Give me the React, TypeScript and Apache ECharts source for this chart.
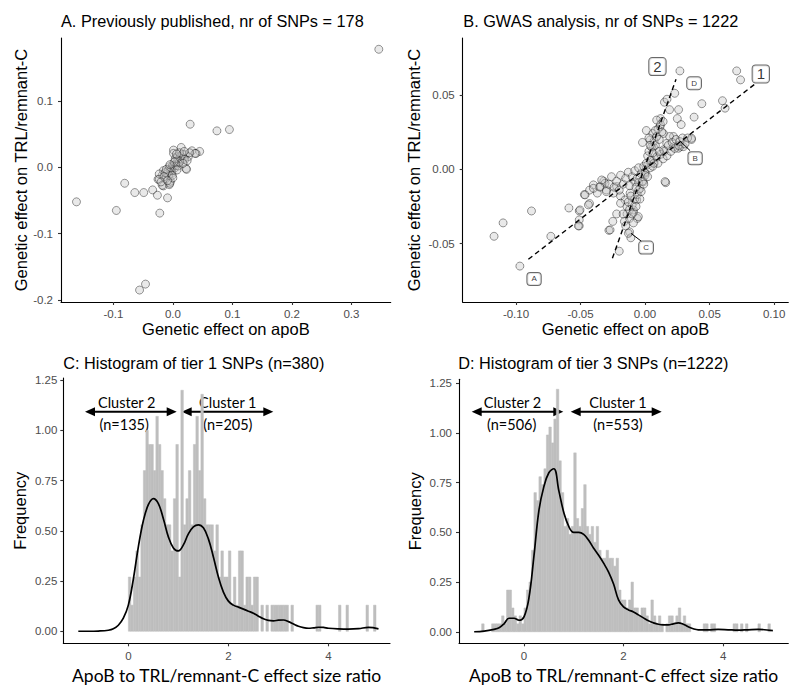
import React, { useEffect, useRef } from "react";
import * as echarts from "echarts";

const FONT = '"Liberation Sans", Arial, Helvetica, sans-serif';
const CAL = 'Lato, "Open Sans", sans-serif';

// ---------- Panel A: previously published SNPs (apoB effect, TRL/remnant-C effect)
const A_POINTS: number[][] = [
  [0.346, 0.178], [0.029, 0.065], [0.074, 0.055], [0.095, 0.057],
  [-0.162, -0.052], [-0.095, -0.065], [-0.081, -0.024], [-0.064, -0.038],
  [-0.049, -0.038], [-0.034, -0.034], [-0.026, -0.042], [-0.022, -0.069],
  [-0.009, -0.046], [-0.056, -0.185], [-0.046, -0.176],
  [-0.025, -0.018], [-0.018, -0.012], [-0.016, -0.028], [-0.006, -0.026], [-0.004, -0.021],
  [0.001, 0.026], [0.014, 0.03], [0.032, 0.025], [0.045, 0.024], [0.039, 0.021],
  [0.022, -0.002], [0.001, 0.021], [0.007, 0.016], [0.021, 0.019], [0.037, 0.021],
  [0.004, 0.009], [-0.006, 0.001], [-0.016, -0.005], [-0.023, -0.01], [-0.023, -0.018],
  [-0.012, -0.017], [-0.002, -0.009], [-0.005, -0.024], [-0.018, -0.027], [0.023, -0.003],
  [0.01, 0.006], [0.015, 0.011], [0.026, 0.016], [0.018, 0.014], [0.012, 0.013],
  [0.008, 0.01], [0.005, 0.005], [0.002, 0.003], [0.0, 0.0], [-0.002, -0.002],
  [-0.004, -0.004], [-0.001, 0.002], [0.003, -0.001], [0.006, 0.003], [-0.003, -0.006],
  [-0.008, -0.005], [-0.01, -0.01], [-0.007, -0.012], [-0.013, -0.008], [0.009, 0.002],
  [0.011, 0.008], [0.013, 0.017], [0.016, 0.02], [0.02, 0.012], [0.004, 0.013],
  [-0.001, -0.012], [-0.011, -0.003], [0.007, -0.004], [0.002, 0.008], [-0.005, 0.004],
  [0.028, 0.022], [0.024, 0.01], [0.017, 0.006], [-0.015, -0.014], [-0.02, -0.022],
  [0.0, -0.016], [-0.009, -0.02], [0.011, 0.022], [0.006, 0.02], [0.019, 0.024],
];

// ---------- Panel B: GWAS SNPs
const B_POINTS: number[][] = [
  [-0.117, -0.045], [-0.11, -0.036], [-0.097, -0.065], [-0.088, -0.028], [-0.073, -0.045],
  [-0.059, -0.026], [-0.051, -0.028], [-0.051, -0.034], [-0.051, -0.038],
  [-0.047, -0.017], [-0.043, -0.023], [-0.043, -0.014], [-0.037, -0.016], [-0.032, -0.008],
  [-0.028, -0.041], [-0.025, -0.035], [-0.022, -0.03], [-0.02, -0.055], [-0.012, -0.042],
  [-0.011, -0.046], [-0.006, -0.033], [0.016, -0.009], [0.001, 0.026], [0.012, 0.034],
  [0.015, 0.045], [0.017, 0.047], [0.023, 0.051], [0.027, 0.066], [0.019, 0.04],
  [0.026, 0.04], [0.025, 0.034], [0.028, 0.03], [0.038, 0.035], [0.036, 0.02],
  [0.044, 0.044], [0.06, 0.046], [0.062, 0.041], [0.071, 0.066], [0.074, 0.06],
  [0.022, 0.022], [0.027, 0.015], [0.006, 0.024],
  [-0.04, -0.0105], [-0.035, -0.0116], [-0.03, -0.0139], [-0.0245, -0.016], [-0.031, -0.0094],
  [-0.022, -0.0116], [-0.019, -0.018], [-0.0155, -0.0206], [-0.019, -0.0228], [-0.014, -0.025],
  [-0.009, -0.0273], [-0.0065, -0.0206], [-0.0116, -0.016], [-0.005, -0.014], [-0.008, -0.0083],
  [-0.0013, -0.0083], [0.0, -0.0027], [0.0065, 0.004], [0.009, 0.0085], [0.0142, 0.013],
  [0.0168, 0.0174], [0.019, 0.022], [0.022, 0.015], [0.0258, 0.0141], [0.0297, 0.0152],
  [0.0065, 0.015], [0.0039, 0.0197], [0.009, 0.022], [0.0116, 0.0286], [0.009, 0.033],
  [0.0142, 0.024], [-0.0465, -0.0172], [-0.04, -0.0128], [-0.0336, -0.0072], [-0.0504, -0.0273],
  [-0.0517, -0.038], [-0.0439, -0.0239], [-0.035, -0.012], [-0.03, -0.015], [-0.028, -0.01],
  [-0.026, -0.005], [-0.024, -0.012], [-0.022, -0.008], [-0.02, -0.014], [-0.019, -0.004],
  [-0.017, -0.01], [-0.015, -0.006], [-0.013, -0.002], [-0.012, -0.011], [-0.01, -0.005],
  [-0.008, -0.001], [-0.006, -0.006], [-0.005, 0.001], [-0.003, -0.003], [-0.001, 0.002],
  [0.0, -0.002], [0.002, 0.003], [0.004, 0.001], [0.005, 0.006], [0.007, 0.004],
  [0.009, 0.008], [0.01, 0.004], [0.012, 0.01], [0.014, 0.007], [0.015, 0.012],
  [0.017, 0.009], [0.018, 0.016], [0.02, 0.012], [0.021, 0.018], [0.023, 0.014],
  [0.024, 0.02], [0.026, 0.016], [0.027, 0.0186], [0.029, 0.021], [0.031, 0.017],
  [0.033, 0.021], [0.036, 0.0208], [0.0155, -0.0083],
  [-0.0129, -0.043], [-0.0271, -0.0407], [-0.016, -0.035], [-0.014, -0.03], [-0.012, -0.027],
  [-0.01, -0.024], [-0.013, -0.022], [-0.009, -0.029], [-0.008, -0.02], [-0.011, -0.018],
  [-0.006, -0.017], [-0.007, -0.025], [-0.004, -0.013], [-0.005, -0.009], [-0.002, -0.008],
  [-0.003, -0.015], [0.0, -0.004], [0.001, 0.004], [0.002, 0.009], [0.003, 0.012],
  [0.004, 0.006], [0.005, 0.015], [0.006, 0.011], [0.007, 0.019], [0.008, 0.016],
  [0.009, 0.022], [0.01, 0.027], [0.011, 0.02], [0.012, 0.03], [0.013, 0.025],
  [0.014, 0.032], [-0.002, 0.018], [0.003, 0.021], [-0.0052, -0.0318], [-0.015, -0.038],
  [-0.017, -0.03], [-0.012, -0.033], [-0.009, -0.036], [-0.01, -0.03], [-0.001, -0.01],
  [0.002, -0.005], [0.004, 0.016], [0.008, 0.026], [0.011, 0.012], [0.006, 0.002],
  [-0.004, -0.02], [-0.007, -0.012],
];

// Dashed cluster lines (start, end) in data units
const B_FIT_LINES: number[][][] = [
  [[-0.0904, -0.0604], [0.0853, 0.0573]],
  [[-0.0253, -0.0597], [0.024, 0.0604]],
];
// Leader lines from a point to its label box
const B_LEADERS: number[][][] = [
  [[0.0271, 0.019], [0.0349, 0.0125]],
  [[-0.0109, -0.043], [-0.0026, -0.0485]],
];
const B_BIG_LABELS: (string | number)[][] = [["1", 0.0897, 0.064], ["2", 0.0096, 0.0689]];
const B_SMALL_LABELS: (string | number)[][] = [
  ["A", -0.086, -0.0736], ["B", 0.0388, 0.0074], ["C", 0.0008, -0.0526], ["D", 0.038, 0.0577],
];

// ---------- Histograms (bin width 0.05)
const BIN_WIDTH = 0.05;
const C_BIN_START = 0;
const C_HEIGHTS = [
  0.27, 0.13, 0.27, 0.4, 0.27, 0.53, 0.8, 1.0, 0.93, 0.93,
  0.8, 1.07, 0.93, 0.8, 0.66, 0.53, 0.53, 0.4, 0.66, 0.93,
  0.27, 1.2, 0.53, 0.66, 0.8, 0.53, 0.93, 1.07, 0.8, 1.18,
  0.66, 0.53, 0.53, 0.53, 0.4, 0.53, 0.27, 0.4, 0.27, 0.27,
  0.4, 0.13, 0.27, 0.13, 0.4, 0.4, 0.13, 0.27, 0.27, 0.13,
  0.27, 0.27, 0, 0.13, 0, 0.13, 0, 0.13, 0.13, 0.13,
  0.13, 0.13, 0.13, 0.13, 0, 0.13, 0, 0, 0, 0,
  0, 0, 0, 0, 0, 0.13, 0.13, 0, 0, 0,
  0, 0, 0, 0, 0.13, 0, 0, 0.13, 0, 0,
  0, 0, 0, 0, 0, 0.13, 0, 0, 0.13, 0,
];
const D_BIN_START = -1;
const D_HEIGHTS = [
  0, 0, 0, 0.04, 0, 0, 0, 0.04, 0.04, 0.04,
  0.04, 0.08, 0.04, 0.21, 0.21, 0.12, 0.08, 0.04, 0.08, 0.04,
  0.12, 0.21, 0.25, 0.41, 0.7, 0.66, 0.78, 0.74, 0.82, 0.99,
  1.03, 0.95, 1.07, 1.22, 0.86, 0.7, 0.53, 0.57, 0.49, 0.53,
  0.9, 0.57, 0.53, 0.62, 0.74, 0.53, 0.49, 0.53, 0.45, 0.53,
  0.41, 0.37, 0.37, 0.41, 0.37, 0.37, 0.33, 0.37, 0.21, 0.16,
  0.16, 0.12, 0.16, 0.25, 0.12, 0.12, 0.08, 0.12, 0.12, 0.08,
  0.04, 0.16, 0.08, 0.04, 0.08, 0.04, 0, 0.04, 0.08, 0.08,
  0.04, 0.08, 0.12, 0.04, 0.08, 0.04, 0.04, 0, 0, 0,
  0, 0, 0.04, 0.04, 0, 0.04, 0.04, 0, 0, 0,
  0, 0, 0, 0, 0.04, 0.04, 0, 0.04, 0, 0.04,
  0, 0, 0, 0, 0.04, 0, 0, 0, 0.04, 0,
];
const C_DENSITY: number[][] = [
  [-1.0, 0.0], [-0.8, 0.0], [-0.6, 0.001], [-0.4, 0.005], [-0.3, 0.012], [-0.2, 0.03],
  [-0.1, 0.065], [0.0, 0.13], [0.1, 0.26], [0.2, 0.42], [0.3, 0.55], [0.4, 0.63],
  [0.5, 0.66], [0.6, 0.635], [0.7, 0.56], [0.8, 0.47], [0.9, 0.415], [1.0, 0.4],
  [1.1, 0.43], [1.2, 0.485], [1.3, 0.52], [1.4, 0.53], [1.5, 0.515], [1.6, 0.46],
  [1.7, 0.37], [1.8, 0.27], [1.9, 0.195], [2.0, 0.15], [2.1, 0.13], [2.2, 0.12],
  [2.3, 0.11], [2.4, 0.1], [2.5, 0.09], [2.6, 0.075], [2.7, 0.062], [2.8, 0.054],
  [2.9, 0.052], [3.0, 0.055], [3.1, 0.056], [3.2, 0.048], [3.3, 0.036], [3.4, 0.025],
  [3.5, 0.018], [3.6, 0.015], [3.7, 0.017], [3.8, 0.02], [3.9, 0.019], [4.0, 0.015],
  [4.2, 0.012], [4.4, 0.011], [4.6, 0.013], [4.8, 0.019], [5.0, 0.012],
];
const D_DENSITY: number[][] = [
  [-1.0, 0.0], [-0.8, 0.003], [-0.6, 0.012], [-0.5, 0.02], [-0.4, 0.04], [-0.3, 0.068],
  [-0.2, 0.068], [-0.1, 0.058], [0.0, 0.075], [0.1, 0.17], [0.2, 0.38], [0.3, 0.61],
  [0.4, 0.73], [0.5, 0.8], [0.6, 0.82], [0.7, 0.71], [0.8, 0.6], [0.9, 0.53],
  [1.0, 0.5], [1.1, 0.5], [1.2, 0.49], [1.3, 0.46], [1.4, 0.42], [1.5, 0.385],
  [1.6, 0.345], [1.7, 0.3], [1.8, 0.24], [1.9, 0.16], [2.0, 0.125], [2.1, 0.11],
  [2.2, 0.1], [2.3, 0.085], [2.4, 0.07], [2.5, 0.055], [2.6, 0.045], [2.7, 0.038],
  [2.8, 0.035], [2.9, 0.035], [3.0, 0.04], [3.1, 0.045], [3.2, 0.038], [3.3, 0.025],
  [3.4, 0.015], [3.5, 0.01], [3.7, 0.01], [3.9, 0.012], [4.1, 0.01], [4.3, 0.008],
  [4.5, 0.01], [4.7, 0.012], [5.0, 0.006],
];

// ---------- Tick values
const A_X_TICKS = [-0.1, 0, 0.1, 0.2, 0.3];
const A_Y_TICKS = [-0.2, -0.1, 0, 0.1];
const B_X_TICKS = [-0.1, -0.05, 0, 0.05, 0.1];
const B_Y_TICKS = [-0.05, 0, 0.05];
const H_X_TICKS = [0, 2, 4];
const H_Y_TICKS = [0, 0.25, 0.5, 0.75, 1, 1.25];

function valueAxis(o: any) {
  return {
    type: "value",
    gridIndex: o.grid,
    min: o.min,
    max: o.max,
    name: o.name,
    nameLocation: "middle",
    nameGap: o.nameGap,
    nameTextStyle: { fontFamily: o.nameFont || FONT, fontSize: o.nameSize || 16.5, color: "#000" },
    axisLine: { show: true, onZero: false, lineStyle: { color: "#000", width: 1.1 } },
    axisTick: { show: true, customValues: o.ticks, length: 3, lineStyle: { color: "#333", width: 1.1 } },
    axisLabel: {
      customValues: o.ticks,
      formatter: (v: number) => Number(v).toFixed(o.digits),
      color: "#4d4d4d",
      fontSize: 11.5,
      fontFamily: FONT,
      margin: o.margin,
    },
    splitLine: { show: false },
  };
}

const pointStyle = {
  color: "rgba(200,200,200,0.5)",
  borderColor: "rgba(0,0,0,0.5)",
  borderWidth: 1,
};

function histSeries(idx: number, start: number, heights: number[]) {
  const data = heights.map((h, i) => [start + i * BIN_WIDTH, start + (i + 1) * BIN_WIDTH, h]);
  return {
    type: "custom",
    xAxisIndex: idx,
    yAxisIndex: idx,
    silent: true,
    encode: { x: [0, 1], y: 2 },
    data,
    renderItem: (_p: any, api: any) => {
      if (!api.value(2)) return null;
      const p0 = api.coord([api.value(0), api.value(2)]);
      const p1 = api.coord([api.value(1), 0]);
      return {
        type: "rect",
        shape: { x: p0[0], y: p0[1], width: p1[0] - p0[0], height: p1[1] - p0[1] },
        style: { fill: "#bebebe", stroke: "#bebebe", lineWidth: 0.5 },
      };
    },
  };
}

function densitySeries(idx: number, data: number[][]) {
  return {
    type: "line",
    xAxisIndex: idx,
    yAxisIndex: idx,
    data,
    smooth: 0.4,
    showSymbol: false,
    silent: true,
    lineStyle: { color: "#000", width: 1.7 },
  };
}

function text(x: number, y: number, t: string, size: number, family: string, align = "left") {
  return {
    type: "text",
    x,
    y,
    silent: true,
    style: { text: t, fontSize: size, fontFamily: family, fill: "#000", align, verticalAlign: "middle" },
  };
}

function arrow(x1: number, x2: number, y: number) {
  return [
    { type: "line", silent: true, shape: { x1: x1 + 6, y1: y, x2: x2 - 6, y2: y }, style: { stroke: "#000", lineWidth: 2 } },
    { type: "polygon", silent: true, shape: { points: [[x1, y], [x1 + 10, y - 4.5], [x1 + 10, y + 4.5]] }, style: { fill: "#000" } },
    { type: "polygon", silent: true, shape: { points: [[x2, y], [x2 - 10, y - 4.5], [x2 - 10, y + 4.5]] }, style: { fill: "#000" } },
  ];
}

function boxLabels(data: (string | number)[][], size: number, pad: number[]) {
  return {
    type: "scatter",
    xAxisIndex: 1,
    yAxisIndex: 1,
    silent: true,
    symbol: "circle",
    symbolSize: 0,
    itemStyle: { color: "transparent" },
    data: data.map((d) => [d[1], d[2], d[0]]),
    label: {
      show: true,
      position: "inside",
      formatter: (p: any) => p.value[2],
      fontSize: size,
      fontFamily: FONT,
      color: "#000",
      backgroundColor: "#fff",
      borderColor: "#444",
      borderWidth: 1,
      borderRadius: 3,
      padding: pad,
    },
    z: 5,
  };
}

const option: any = {
  animation: false,
  backgroundColor: "#fff",
  grid: [
    { left: 61, top: 38, width: 329.7, height: 264 },
    { left: 462.7, top: 38, width: 325.6, height: 264 },
    { left: 63.3, top: 378, width: 326.7, height: 265.3 },
    { left: 459, top: 379.3, width: 329.3, height: 264 },
  ],
  xAxis: [
    valueAxis({ grid: 0, min: -0.188, max: 0.366, ticks: A_X_TICKS, digits: 1, name: "Genetic effect on apoB", nameGap: 18, margin: 6 }),
    valueAxis({ grid: 1, min: -0.1413, max: 0.111, ticks: B_X_TICKS, digits: 2, name: "Genetic effect on apoB", nameGap: 18, margin: 6 }),
    valueAxis({ grid: 2, min: -1.3, max: 5.23, ticks: H_X_TICKS, digits: 0, name: "ApoB to TRL/remnant-C effect size ratio", nameGap: 23, margin: 7, nameFont: CAL, nameSize: 17.5 }),
    valueAxis({ grid: 3, min: -1.305, max: 5.31, ticks: H_X_TICKS, digits: 0, name: "ApoB to TRL/remnant-C effect size ratio", nameGap: 23, margin: 7, nameFont: CAL, nameSize: 17.5 }),
  ],
  yAxis: [
    valueAxis({ grid: 0, min: -0.203, max: 0.195, ticks: A_Y_TICKS, digits: 1, name: "Genetic effect on TRL/remnant-C", nameGap: 31, margin: 8 }),
    valueAxis({ grid: 1, min: -0.0891, max: 0.0881, ticks: B_Y_TICKS, digits: 2, name: "Genetic effect on TRL/remnant-C", nameGap: 40, margin: 8 }),
    valueAxis({ grid: 2, min: -0.06, max: 1.261, ticks: H_Y_TICKS, digits: 2, name: "Frequency", nameGap: 35, margin: 6 }),
    valueAxis({ grid: 3, min: -0.058, max: 1.27, ticks: H_Y_TICKS, digits: 2, name: "Frequency", nameGap: 36, margin: 7 }),
  ],
  series: [
    { type: "scatter", xAxisIndex: 0, yAxisIndex: 0, data: A_POINTS, symbolSize: 8, itemStyle: pointStyle, silent: true },
    {
      type: "scatter",
      xAxisIndex: 1,
      yAxisIndex: 1,
      data: B_POINTS,
      symbolSize: 8,
      itemStyle: pointStyle,
      silent: true,
      markLine: {
        silent: true,
        symbol: "none",
        label: { show: false },
        data: [
          ...B_FIT_LINES.map((l) => [
            { coord: l[0], lineStyle: { type: [5, 3.5], color: "#000", width: 1.4 } },
            { coord: l[1] },
          ]),
          ...B_LEADERS.map((l) => [
            { coord: l[0], lineStyle: { type: "solid", color: "#000", width: 1 } },
            { coord: l[1] },
          ]),
        ],
      },
    },
    boxLabels(B_BIG_LABELS, 15, [1, 4]),
    boxLabels(B_SMALL_LABELS, 8, [2, 4]),
    histSeries(2, C_BIN_START, C_HEIGHTS),
    densitySeries(2, C_DENSITY),
    histSeries(3, D_BIN_START, D_HEIGHTS),
    densitySeries(3, D_DENSITY),
  ],
  graphic: [
    text(61, 20.8, "A. Previously published, nr of SNPs = 178", 16.3, FONT),
    text(463.3, 20.8, "B. GWAS analysis, nr of SNPs = 1222", 16.3, FONT),
    text(63.3, 362.5, "C: Histogram of tier 1 SNPs (n=380)", 16.3, FONT),
    text(458.3, 362.5, "D: Histogram of tier 3 SNPs (n=1222)", 16.3, FONT),
    text(126.7, 402.7, "Cluster 2", 14.5, CAL, "center"),
    text(124.2, 424, "(n=135)", 14.5, CAL, "center"),
    text(227.8, 402.7, "Cluster 1", 14.5, CAL, "center"),
    text(227.8, 424, "(n=205)", 14.5, CAL, "center"),
    text(512.5, 402.7, "Cluster 2", 14.5, CAL, "center"),
    text(511.7, 424, "(n=506)", 14.5, CAL, "center"),
    text(618, 402.7, "Cluster 1", 14.5, CAL, "center"),
    text(618, 424, "(n=553)", 14.5, CAL, "center"),
    ...arrow(85, 176.7, 411.7),
    ...arrow(181.7, 273.3, 411.7),
    ...arrow(471.7, 563.3, 411.7),
    ...arrow(570.7, 661.7, 411.7),
  ],
};

export default function App() {
  const ref = useRef<HTMLDivElement>(null);
  useEffect(() => {
    const chart = echarts.init(ref.current!, null, { renderer: "svg" });
    chart.setOption(option);
    return () => chart.dispose();
  }, []);
  return (
    <div
      ref={ref}
      style={{ position: "fixed", left: 0, top: 0, width: 800, height: 696, background: "#fff" }}
    />
  );
}
